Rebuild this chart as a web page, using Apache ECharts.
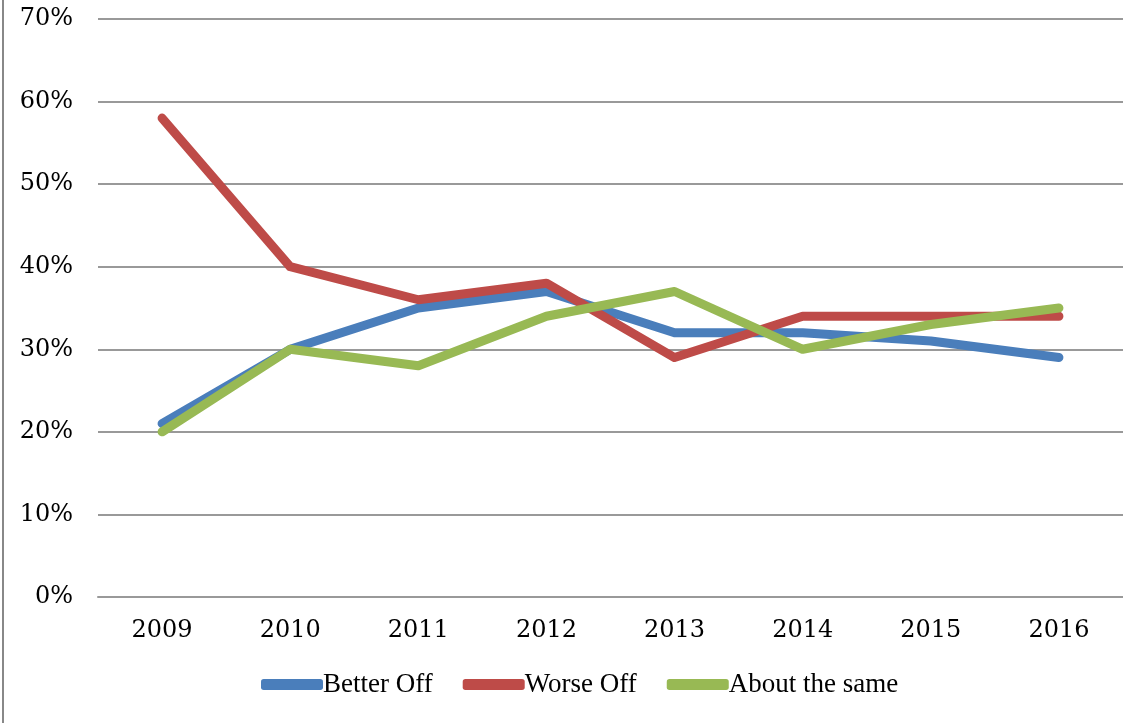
<!DOCTYPE html>
<html>
<head>
<meta charset="utf-8">
<script src="https://cdn.jsdelivr.net/npm/echarts@6/dist/echarts.min.js"></script>
<style>
    html, body { margin: 0; padding: 0; background: #fff; }
    #main { width: 1123px; height: 723px; }
</style>
</head>
<body>
<div id="main"></div>
<script>
// 数据
var years = ["2009", "2010", "2011", "2012", "2013", "2014", "2015", "2016"];
var betterOff = [21, 30, 35, 37, 32, 32, 31, 29];
var worseOff = [58, 40, 36, 38, 29, 34, 34, 34];
var aboutSame = [20, 30, 28, 34, 37, 30, 33, 35];
var seriesNames = ["Better Off", "Worse Off", "About the same"];

(function () {
    var myChart = echarts.init(document.getElementById("main"));
    var font = "DejaVu Serif";
    var option = {
        color: ["#4a7ebb", "#be4b48", "#98b954"],
        animation: false,
        // 左侧边框
        graphic: [{
            type: "rect",
            left: 2,
            top: 0,
            shape: { width: 2, height: 723 },
            style: { fill: "#888" }
        }],
        grid: {
            left: 98,
            right: -3,
            top: 19,
            bottom: 126
        },
        legend: {
            bottom: 20,
            left: 256,
            icon: "roundRect",
            itemWidth: 62,
            itemHeight: 11,
            itemGap: 30,
            textStyle: {
                fontFamily: "Liberation Serif",
                fontSize: 27,
                color: "#000",
                padding: [0, 0, 0, -5]
            },
            data: seriesNames
        },
        xAxis: {
            type: "category",
            data: years,
            axisTick: { show: false },
            axisLine: {
                lineStyle: { color: "#999", width: 2 }
            },
            axisLabel: {
                margin: 22,
                fontFamily: font,
                fontSize: 24,
                color: "#000"
            }
        },
        yAxis: {
            type: "value",
            min: 0,
            max: 70,
            interval: 10,
            axisLine: { show: false },
            axisTick: { show: false },
            axisLabel: {
                margin: 25,
                fontFamily: font,
                fontSize: 24,
                color: "#000",
                formatter: "{value}%"
            },
            splitLine: {
                lineStyle: { color: "#999", width: 2 }
            }
        },
        series: [
            {
                name: seriesNames[0],
                type: "line",
                data: betterOff,
                showSymbol: false,
                lineStyle: { width: 9, cap: "round", join: "round" }
            },
            {
                name: seriesNames[1],
                type: "line",
                data: worseOff,
                showSymbol: false,
                lineStyle: { width: 9, cap: "round", join: "round" }
            },
            {
                name: seriesNames[2],
                type: "line",
                data: aboutSame,
                showSymbol: false,
                lineStyle: { width: 9, cap: "round", join: "round" }
            }
        ]
    };
    myChart.setOption(option);
    window.addEventListener("resize", function () {
        myChart.resize();
    });
})();
</script>
</body>
</html>
